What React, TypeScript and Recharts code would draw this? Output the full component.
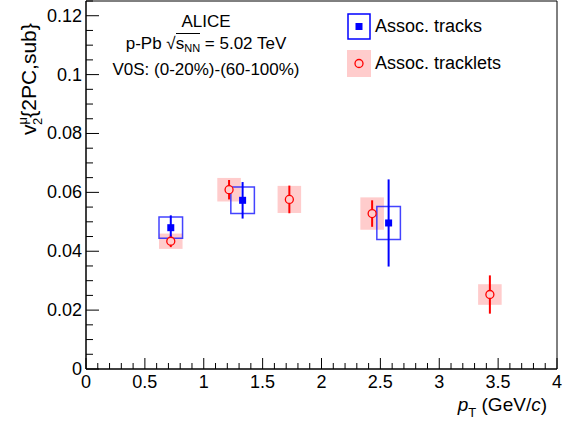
import React from 'react';
import {
  ComposedChart,
  Scatter,
  ErrorBar,
  XAxis,
  YAxis,
  ReferenceArea,
} from 'recharts';

// ---------------------------------------------------------------------------
// Data
// ---------------------------------------------------------------------------

const tracksPt = [0.72, 1.33, 2.57];
const tracksV2 = [0.048, 0.0573, 0.0496];
const tracksStat = [0.0042, 0.0062, 0.0148];
const tracksSys = [0.0036, 0.0045, 0.0056];

const trackletsPt = [0.72, 1.215, 1.727, 2.43, 3.43];
const trackletsV2 = [0.0434, 0.0609, 0.0576, 0.0528, 0.0253];
const trackletsStat = [0.002, 0.0033, 0.0047, 0.0045, 0.0065];
const trackletsSys = [0.0026, 0.004, 0.0046, 0.0055, 0.0035];

const SYS_HALF_WIDTH = 0.1;

const xMajorLabels = ['0', '0.5', '1', '1.5', '2', '2.5', '3', '3.5', '4'];
const yMajorLabels = ['0', '0.02', '0.04', '0.06', '0.08', '0.1', '0.12'];

// minor ticks: 5 per 0.5 on x, 4 per 0.02 on y
const xTicks = Array.from({ length: 41 }, (_, i) => +(i * 0.1).toFixed(2));
const yTicks = Array.from({ length: 26 }, (_, i) => +(i * 0.005).toFixed(3));

const tracksData = tracksPt.map((pt, i) => ({ pt, v2: tracksV2[i], err: tracksStat[i] }));
const trackletsData = trackletsPt.map((pt, i) => ({ pt, v2: trackletsV2[i], err: trackletsStat[i] }));

const FONT = '"Liberation Sans", Arial, Helvetica, sans-serif';
const BLUE = '#0000ff';
const RED = '#ff0000';
const PINK = '#ffcccc';

// ---------------------------------------------------------------------------
// Ticks (ROOT style, drawn inside the frame)
// ---------------------------------------------------------------------------

function XTick({ x, y, payload }: any) {
  const v = payload.value as number;
  const label = xMajorLabels.find((l) => Math.abs(parseFloat(l) - v) < 1e-6);
  return (
    <g>
      <line x1={x} x2={x} y1={y} y2={y - (label ? 11 : 6)} stroke="#000" strokeWidth={1} />
      {label && (
        <text x={x} y={y + 19} textAnchor="middle" fontSize={18} fontFamily={FONT} fill="#000">
          {label}
        </text>
      )}
    </g>
  );
}

function YTick({ x, y, payload }: any) {
  const v = payload.value as number;
  const label = yMajorLabels.find((l) => Math.abs(parseFloat(l) - v) < 1e-7);
  return (
    <g>
      <line x1={x} x2={x + (label ? 13 : 7)} y1={y} y2={y} stroke="#000" strokeWidth={1} />
      {label && (
        <text x={x - 4} y={y + 6} textAnchor="end" fontSize={18} fontFamily={FONT} fill="#000">
          {label}
        </text>
      )}
    </g>
  );
}

// ---------------------------------------------------------------------------
// Markers
// ---------------------------------------------------------------------------

const BlueSquare = ({ cx, cy }: any) => (
  <rect x={cx - 3.5} y={cy - 3.5} width={7} height={7} fill={BLUE} />
);

const RedCircle = ({ cx, cy }: any) => (
  <circle cx={cx} cy={cy} r={4} fill={PINK} stroke={RED} strokeWidth={1.3} />
);

export default function App() {
  return (
    <div style={{ position: 'relative', width: 575, height: 427, fontFamily: FONT }}>
      <style>{'body{margin:0}'}</style>
      <ComposedChart
        width={575}
        height={427}
        margin={{ top: 1, right: 18, bottom: 28, left: 26 }}
      >
        <XAxis
          dataKey="pt"
          type="number"
          domain={[0, 4]}
          ticks={xTicks}
          interval={0}
          allowDataOverflow
          height={30}
          tickSize={0}
          tickMargin={0}
          tickLine={false}
          axisLine={{ stroke: '#000' }}
          tick={<XTick />}
        />
        <YAxis
          type="number"
          domain={[0, 0.125]}
          ticks={yTicks}
          interval={0}
          allowDataOverflow
          width={60}
          tickSize={0}
          tickMargin={0}
          tickLine={false}
          axisLine={{ stroke: '#000' }}
          tick={<YTick />}
        />

        {/* systematic boxes: tracklets (filled) under tracks (open) */}
        {trackletsPt.map((pt, i) => (
          <ReferenceArea
            key={`tl-sys-${i}`}
            x1={pt - SYS_HALF_WIDTH}
            x2={pt + SYS_HALF_WIDTH}
            y1={trackletsV2[i] - trackletsSys[i]}
            y2={trackletsV2[i] + trackletsSys[i]}
            fill={PINK}
            fillOpacity={1}
            stroke="none"
          />
        ))}
        {tracksPt.map((pt, i) => (
          <ReferenceArea
            key={`tr-sys-${i}`}
            x1={pt - SYS_HALF_WIDTH}
            x2={pt + SYS_HALF_WIDTH}
            y1={tracksV2[i] - tracksSys[i]}
            y2={tracksV2[i] + tracksSys[i]}
            fill="none"
            fillOpacity={0}
            stroke="#2222ff"
            strokeOpacity={0.85}
            strokeWidth={1.5}
          />
        ))}

        {/* frame */}
        <ReferenceArea x1={0} x2={4} y1={0} y2={0.125} fill="none" fillOpacity={0} stroke="#000" strokeWidth={1} />

        <Scatter data={trackletsData} dataKey="v2" shape={<RedCircle />} isAnimationActive={false}>
          <ErrorBar dataKey="err" direction="y" width={0} stroke={RED} strokeWidth={2} />
        </Scatter>
        <Scatter data={tracksData} dataKey="v2" shape={<BlueSquare />} isAnimationActive={false}>
          <ErrorBar dataKey="err" direction="y" width={0} stroke={BLUE} strokeWidth={2} />
        </Scatter>
      </ComposedChart>

      {/* axis titles */}
      <svg width={575} height={427} style={{ position: 'absolute', left: 0, top: 0, pointerEvents: 'none' }}>
        <text
          x={36}
          y={135}
          transform="rotate(-90 36 135)"
          fontSize={21}
          fontFamily={FONT}
          fill="#000"
        >
          v
          <tspan fontSize={13} dy={-9}>μ</tspan>
          <tspan fontSize={13} dx={-8} dy={15}>2</tspan>
          <tspan fontSize={21} dy={-6}>{'{2PC,sub}'}</tspan>
        </text>
        <text x={547} y={411} textAnchor="end" fontSize={19} fontFamily={FONT} fill="#000">
          <tspan fontStyle="italic">p</tspan>
          <tspan fontSize={13} dy={6}>T</tspan>
          <tspan dy={-6}>{' (GeV/'}</tspan>
          <tspan fontStyle="italic">c</tspan>
          <tspan>)</tspan>
        </text>
      </svg>

      {/* header text */}
      <div
        style={{
          position: 'absolute',
          left: 106,
          top: 11,
          width: 200,
          textAlign: 'center',
          fontSize: 17,
          lineHeight: '22px',
          color: '#000',
        }}
      >
        <div>ALICE</div>
        <div>
          p-Pb&nbsp;
          <span>
            √<span style={{ borderTop: '1px solid #000' }}>
              s<sub style={{ fontSize: 11, verticalAlign: -3 }}>NN</sub>
            </span>
          </span>
          {' = 5.02 TeV'}
        </div>
        <div>V0S: (0-20%)-(60-100%)</div>
      </div>

      {/* legend */}
      <div style={{ position: 'absolute', left: 347, top: 13, fontSize: 18, color: '#000' }}>
        <div style={{ display: 'flex', alignItems: 'center', height: 27, marginBottom: 10 }}>
          <svg width={24} height={27}>
            <rect x={1} y={1} width={22} height={25} fill="none" stroke={BLUE} strokeWidth={1.5} />
            <rect x={8.5} y={10} width={7} height={7} fill={BLUE} />
          </svg>
          <span style={{ marginLeft: 4 }}>Assoc. tracks</span>
        </div>
        <div style={{ display: 'flex', alignItems: 'center', height: 27 }}>
          <svg width={24} height={27}>
            <rect x={0} y={0} width={24} height={27} fill={PINK} />
            <circle cx={12} cy={13.5} r={4} fill={PINK} stroke={RED} strokeWidth={1.3} />
          </svg>
          <span style={{ marginLeft: 4 }}>Assoc. tracklets</span>
        </div>
      </div>
    </div>
  );
}
